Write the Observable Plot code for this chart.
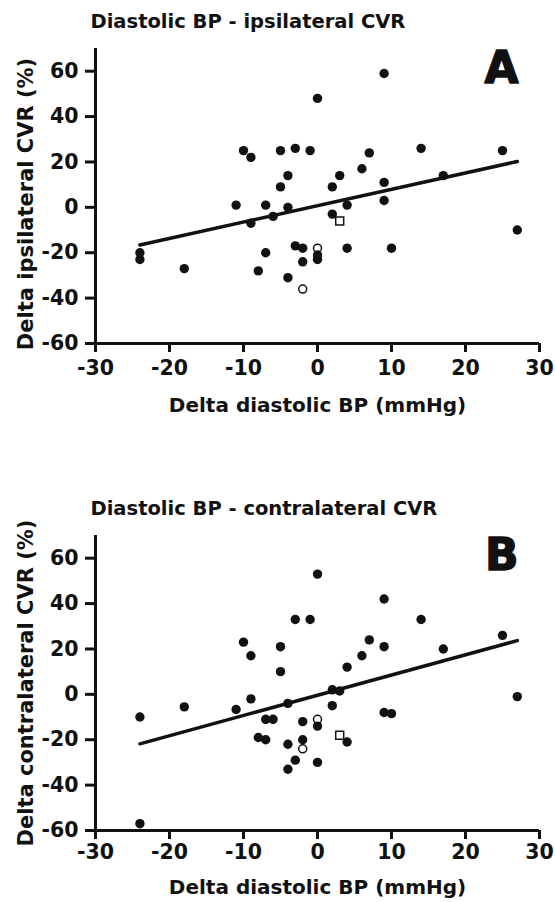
<!DOCTYPE html>
<html><head><meta charset="utf-8">
<script src="https://cdn.jsdelivr.net/npm/d3@7"></script>
<script src="https://cdn.jsdelivr.net/npm/@observablehq/plot@0.6"></script>
<style>body{margin:0;background:#fff;} #chart svg{display:block;}</style>
</head><body><div id="chart"></div>
<script>
// Tick labels
const xTicks = [-30, -20, -10, 0, 10, 20, 30];
const yTicks = [-60, -40, -20, 0, 20, 40, 60];

// Panel A: Diastolic BP - ipsilateral CVR
const aX = [-24,-24,-18,-10,-9,-11,-9,-7,-6,-7,-8,-5,-3,-1,-4,-5,-4,-3,-2,-2,-4,0,9,7,14,25,6,3,2,9,17,9,4,2,27,4,10,0,0];
const aY = [-20,-23,-27,25,22,1,-7,1,-4,-20,-28,25,26,25,14,9,0,-17,-18,-24,-31,48,59,24,26,25,17,14,9,11,14,3,1,-3,-10,-18,-18,-21,-23];
const aOpenX = [0, -2];
const aOpenY = [-18, -36];
const aSquareX = [3];
const aSquareY = [-6];
const aFitX = [-24, 27];
const aFitY = [-16.6, 20.2];

// Panel B: Diastolic BP - contralateral CVR
const bX = [-24,-24,-18,-11,-9,-10,-9,-5,-5,-4,-7,-6,-8,-7,-4,-3,-4,-3,-1,0,-2,-2,0,0,9,14,25,17,7,9,6,4,2,3,2,27,9,10,4];
const bY = [-10,-57,-5.5,-6.7,-2,23,17,21,10,-4,-11,-11,-19,-20,-22,-29,-33,33,33,53,-12,-20,-14,-30,42,33,26,20,24,21,17,12,2,1.5,-5,-1,-8,-8.5,-21];
const bOpenX = [0, -2];
const bOpenY = [-11, -24];
const bSquareX = [3];
const bSquareY = [-18];
const bFitX = [-24, 27];
const bFitY = [-21.8, 23.7];

const xLabel = "Delta diastolic BP (mmHg)";

const zip = (xs, ys) => xs.map((x, i) => ({x, y: ys[i]}));
const INK = "#111";
const fmt = d => String(d); // plain hyphen-minus like the reference

function panel({title, letter, yLabel, xs, ys, ox, oy, sx, sy, fx, fy, height, marginBottom, yLabelDy, letterDy, xTickPad, xLabelDy}) {
  return Plot.plot({
    width: 555,
    height,
    marginTop: 48,
    marginBottom,
    marginLeft: 95,
    marginRight: 16,
    style: {fontFamily: "DejaVu Sans", fontWeight: "bold", fontSize: "20.5px", color: INK, background: "#fff", overflow: "visible"},
    x: {domain: [-30, 30]},
    y: {domain: [-60, 70]},
    marks: [
      Plot.axisX(xTicks, {tickSize: 9, tickPadding: xTickPad, strokeWidth: 3, label: null, tickFormat: fmt}),
      Plot.axisY(yTicks, {tickSize: 10, tickPadding: 7, strokeWidth: 3, label: null, tickFormat: fmt}),
      Plot.ruleX([-30], {strokeWidth: 3, stroke: INK}),
      Plot.ruleY([-60], {strokeWidth: 3, stroke: INK}),
      Plot.line(zip(fx, fy), {x: "x", y: "y", strokeWidth: 3.5, stroke: INK}),
      Plot.dot(zip(ox, oy), {x: "x", y: "y", r: 4, stroke: INK, strokeWidth: 1.5, fill: "#fff"}),
      Plot.dot(zip(xs, ys), {x: "x", y: "y", r: 4.7, fill: INK, stroke: "none"}),
      Plot.dot(zip(sx, sy), {x: "x", y: "y", symbol: "square", r: 4.5, stroke: INK, strokeWidth: 1.5, fill: "#fff"}),
      Plot.text([title], {text: d => d, frameAnchor: "top-left", dx: -5, dy: -27, textAnchor: "start", lineAnchor: "middle", fontSize: 19.5, fontWeight: "bold", fill: INK}),
      Plot.text([letter], {text: d => d, frameAnchor: "top-right", dx: -21, dy: letterDy, textAnchor: "end", lineAnchor: "middle", fontSize: 44, fontWeight: "bold", fill: INK, stroke: INK, strokeWidth: 1.5}),
      Plot.text([xLabel], {text: d => d, frameAnchor: "bottom", dy: xLabelDy, textAnchor: "middle", lineAnchor: "middle", fontSize: 20, fontWeight: "bold", fill: INK}),
      Plot.text([yLabel], {text: d => d, frameAnchor: "left", dx: -69, dy: yLabelDy, rotate: -90, textAnchor: "middle", lineAnchor: "middle", fontSize: 21, fontWeight: "bold", fill: INK})
    ]
  });
}

const chart = document.getElementById("chart");
chart.append(panel({
  title: "Diastolic BP - ipsilateral CVR", letter: "A", yLabel: "Delta ipsilateral CVR (%)",
  xs: aX, ys: aY, ox: aOpenX, oy: aOpenY, sx: aSquareX, sy: aSquareY, fx: aFitX, fy: aFitY,
  height: 487, marginBottom: 144, yLabelDy: 8, letterDy: 20, xTickPad: 8, xLabelDy: 62
}));
chart.append(panel({
  title: "Diastolic BP - contralateral CVR", letter: "B", yLabel: "Delta contralateral CVR (%)",
  xs: bX, ys: bY, ox: bOpenX, oy: bOpenY, sx: bSquareX, sy: bSquareY, fx: bFitX, fy: bFitY,
  height: 415, marginBottom: 72, yLabelDy: 0, letterDy: 20, xTickPad: 5, xLabelDy: 57
}));
</script>
</body></html>
